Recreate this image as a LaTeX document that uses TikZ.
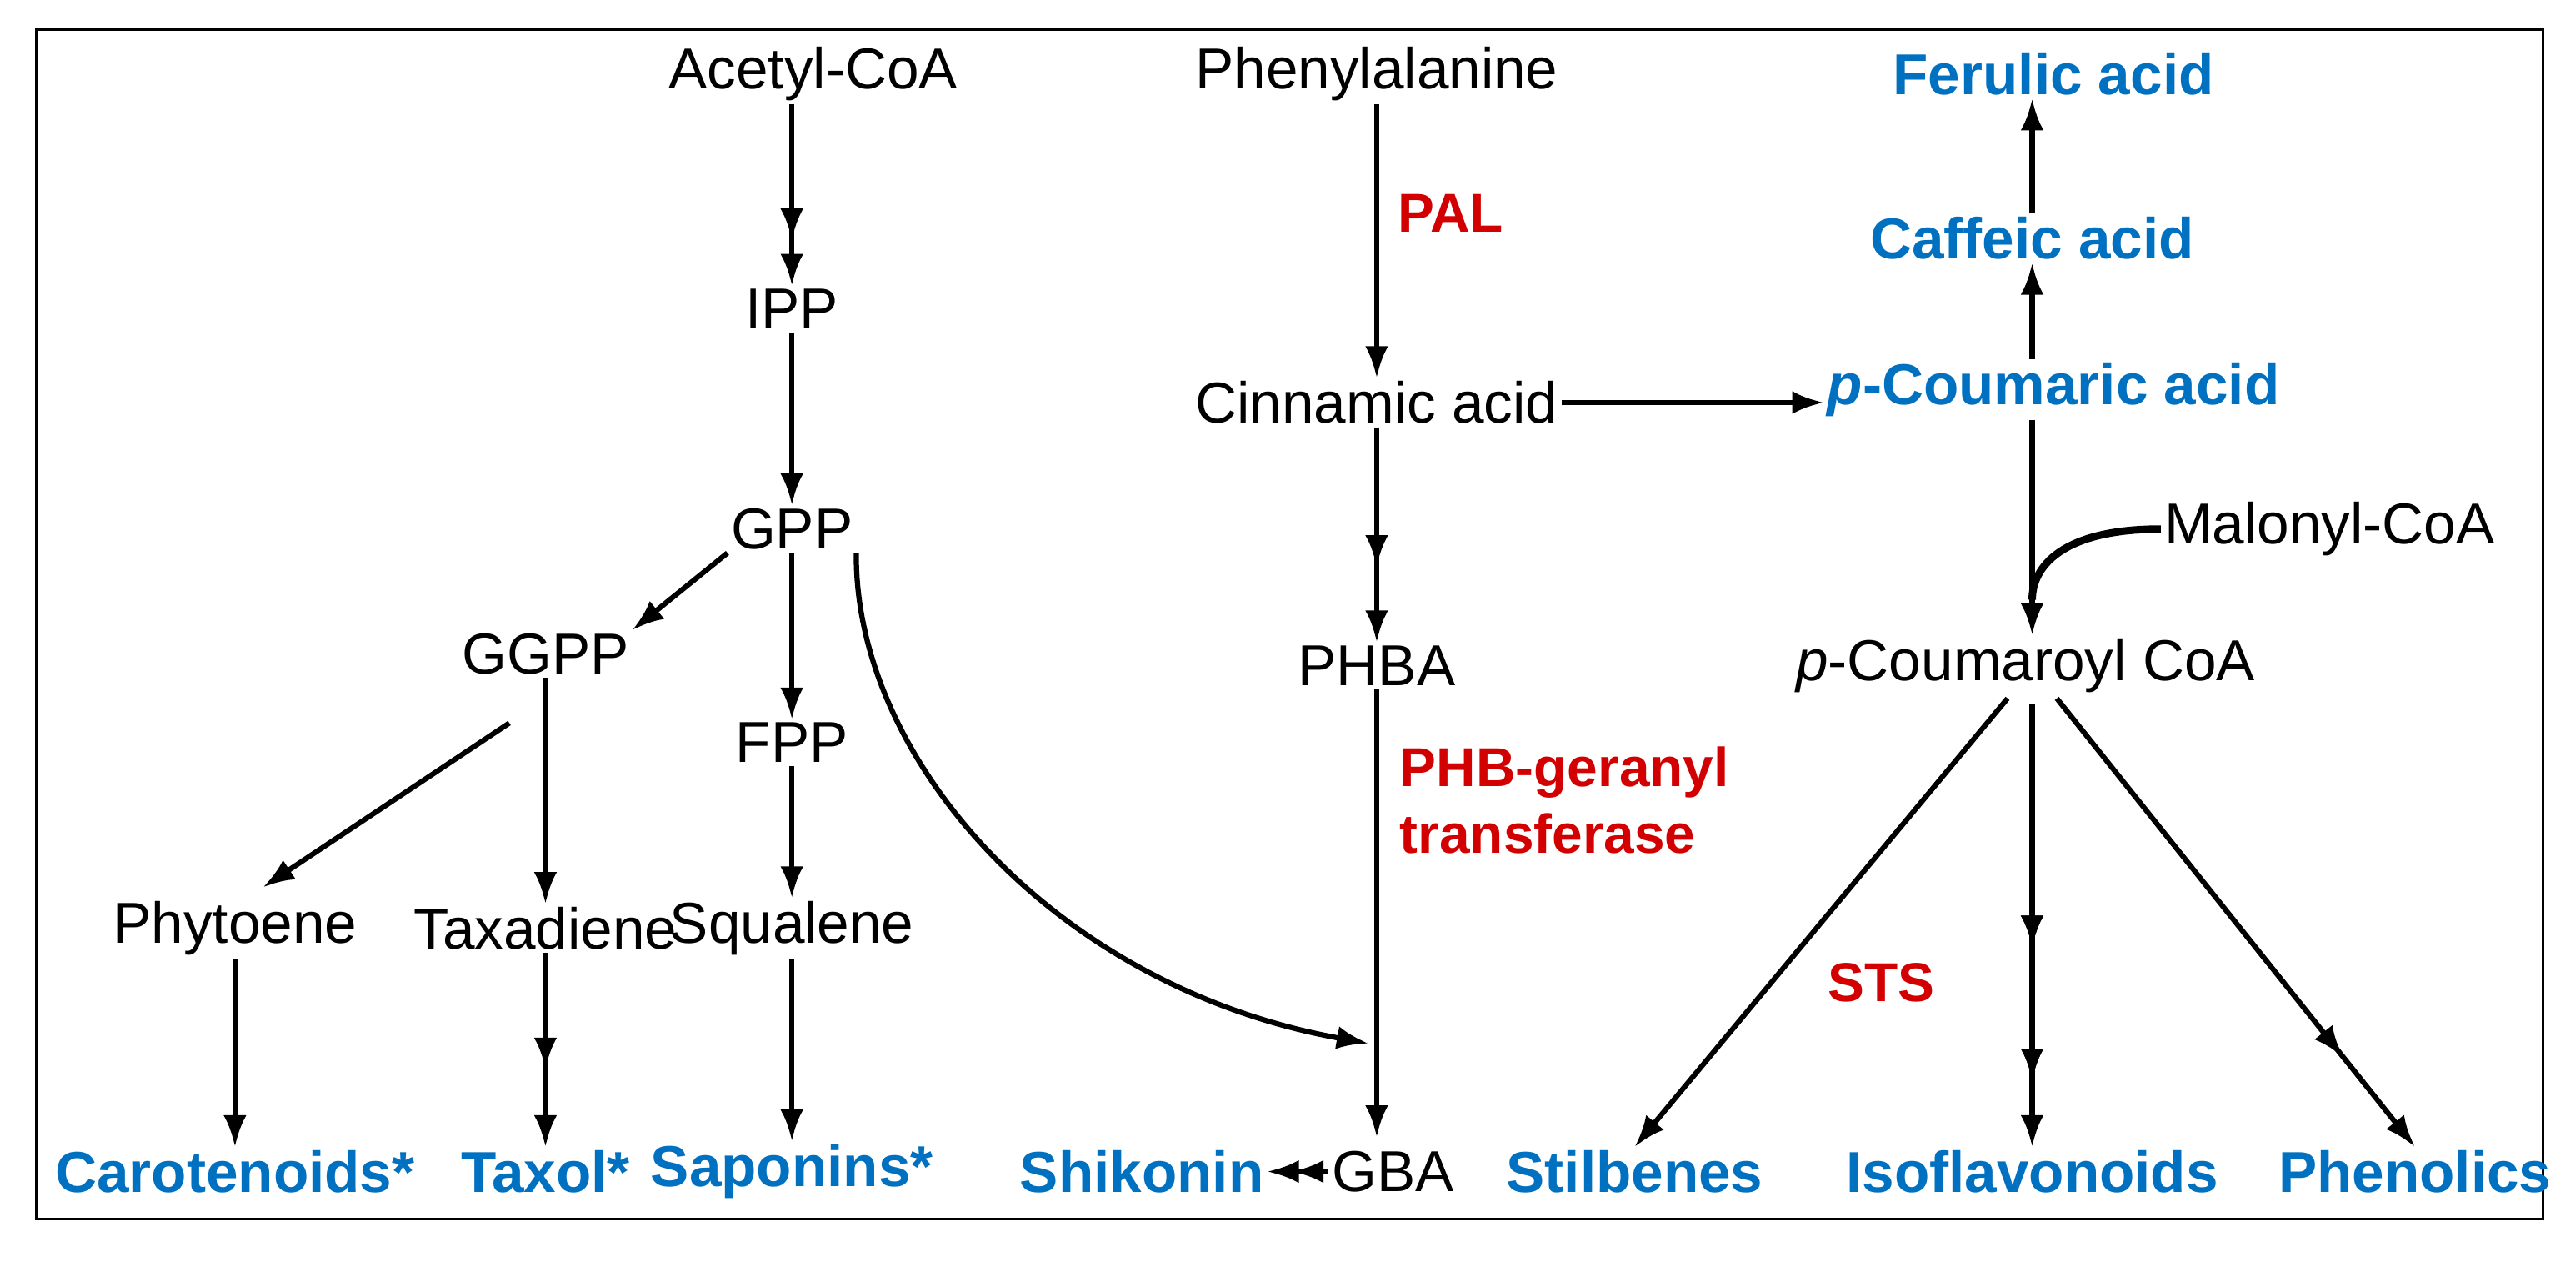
\documentclass[tikz,border=0pt]{standalone}
\usepackage{fontspec}
\setmainfont{Liberation Sans}
\usetikzlibrary{arrows.meta,decorations.markings}
\definecolor{pblue}{RGB}{0,112,192}
\definecolor{pred}{RGB}{210,0,0}
\begin{document}
\begin{tikzpicture}[x=0.02cm,y=-0.02cm,
  every node/.style={font=\fontsize{20}{24}\selectfont, inner sep=1pt},
  prod/.style={text=pblue, font=\fontsize{20}{24}\selectfont\bfseries},
  enz/.style={text=pred, font=\fontsize{19}{23}\selectfont\bfseries, align=left},
  arr/.style={line width=1.8pt, -{Latex[length=11pt,width=8pt]}},
  mid/.style={postaction={decorate}, decoration={markings, mark=at position #1 with {\arrow{Latex[length=11pt,width=8pt]}}}}]
\useasboundingbox (0,0) rectangle (1568,771);
\draw[line width=0.9pt] (22,18) rectangle (1548,742);
% left
\node (ac) at (495,45) {Acetyl-CoA};
\node (ipp) at (482,188) {IPP};
\node (gpp) at (482,322) {GPP};
\node (ggpp) at (332,398) {GGPP};
\node (fpp) at (482,452) {FPP};
\node (phy) at (143,565) {Phytoene};
\node (tax) at (332,565) {Taxadiene};
\node (squ) at (482,565) {Squalene};
\node[prod] (car) at (143,713) {Carotenoids*};
\node[prod] (txl) at (332,713) {Taxol*};
\node[prod] (sap) at (482,713) {Saponins*};
% middle
\node (phe) at (838,45) {Phenylalanine};
\node[enz] (pal) at (883,130) {PAL};
\node (cin) at (838,245) {Cinnamic acid};
\node (phba) at (838,405) {PHBA};
\node[enz, anchor=west] (phbg) at (850,487) {PHB-geranyl\\transferase};
\node (gba) at (848,713) {GBA};
\node[prod] (shi) at (695,713) {Shikonin};
% right
\node[prod] (fer) at (1250,45) {Ferulic acid};
\node[prod] (caf) at (1237,145) {Caffeic acid};
\node[prod] (pcou) at (1250,237) {\textit{p}-Coumaric acid};
\node (mal) at (1418,322) {Malonyl-CoA};
\node (pcoa) at (1233,405) {\textit{p}-Coumaroyl CoA};
\node[enz] (sts) at (1145,598) {STS};
\node[prod] (sti) at (995,713) {Stilbenes};
\node[prod] (iso) at (1237,713) {Isoflavonoids};
\node[prod] (phen) at (1470,713) {Phenolics};
\coordinate (cj) at (1237,365);
\coordinate (gin) at (833,635);
\coordinate (ggs) at (310,440);
\coordinate (phn) at (160,540);
% arrows left
\draw[arr, mid=0.75] (ac.south -| ipp) -- (ipp);
\draw[arr] (ipp) -- (gpp);
\draw[arr] (gpp.south west) -- (ggpp.north east);
\draw[arr] (gpp) -- (fpp);
\draw[arr] (gpp.south east) .. controls (520,460) and (640,600) .. (gin);
\draw[arr] (ggs) -- (phn);
\draw[arr] (ggpp) -- (tax);
\draw[arr] (fpp) -- (squ);
\draw[arr] (phy.south -| car) -- (car);
\draw[arr, mid=0.6] (tax) -- (txl);
\draw[arr] (squ) -- (sap);
% middle arrows
\draw[arr] (phe) -- (cin);
\draw[arr, mid=0.65] (cin) -- (phba);
\draw[arr] (phba.south -| 838,0) -- (838,692);
\draw[arr] (cin.east) -- (pcou.west |- cin.east);
\draw[arr, mid=0.6] (gba) -- (shi);
% right arrows
\draw[arr] (pcou.north -| caf) -- (caf);
\draw[arr] (caf.north) -- (fer.south -| caf);
\draw[arr] (pcou.south -| caf) -- (pcoa.north -| caf);
\draw[line width=2.6pt] (mal.west) .. controls (1255,322) and (1237,345) .. (cj);
\draw[arr] (1222,425) -- (sti.north);
\draw[arr, mid=0.55, mid=0.85] (1237,428) -- (iso.north);
\draw[arr, mid=0.8] (1252,425) -- (phen.north);
\end{tikzpicture}
\end{document}
